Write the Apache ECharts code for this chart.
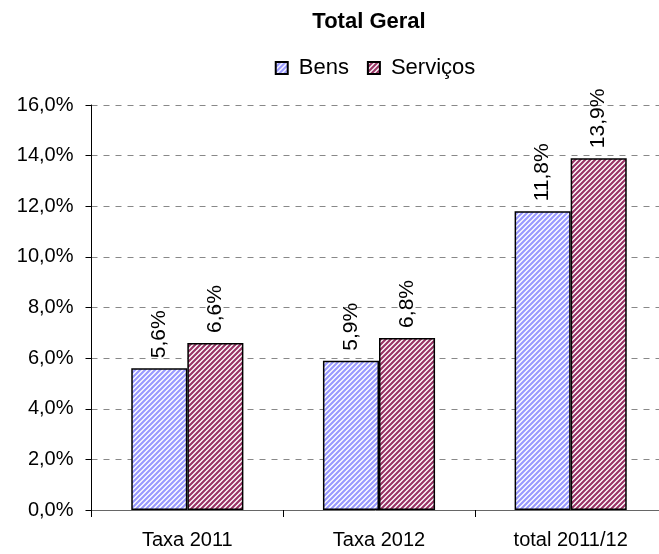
<!DOCTYPE html>
<html><head><meta charset="utf-8">
<script src="https://cdn.jsdelivr.net/npm/echarts@6/dist/echarts.min.js"></script>
<style>html,body{margin:0;padding:0;background:#fff}#c{width:659px;height:554px}</style>
</head><body><div id="c"></div>
<script>
const categories = ['Taxa 2011', 'Taxa 2012', 'total 2011/12'];
const bens = [5.6, 5.9, 11.8];
const servicos = [6.6, 6.8, 13.9];
const seriesNames = ['Bens', 'Serviços'];
const titleText = 'Total Geral';

function stripe(color) {
  const s = 5;
  const cv = document.createElement('canvas');
  cv.width = s; cv.height = s;
  const ctx = cv.getContext('2d');
  ctx.fillStyle = '#fff';
  ctx.fillRect(0, 0, s, s);
  ctx.strokeStyle = color;
  ctx.lineWidth = 2.2;
  ctx.beginPath();
  for (let k = -1; k <= 1; k++) {
    ctx.moveTo(k * s - 1, s + 1);
    ctx.lineTo(k * s + s + 1, -1);
  }
  ctx.stroke();
  return { image: cv, repeat: 'repeat' };
}
const fmt = v => v.toFixed(1).replace('.', ',') + '%';
const font = 'Liberation Sans, Arial, sans-serif';
const mctx = document.createElement('canvas').getContext('2d');
function tw(text, size, weight) {
  mctx.font = (weight || 'normal') + ' ' + size + 'px ' + font;
  return mctx.measureText(text).width;
}
const titleSize = 22, legendSize = 22;
const titleLeft = 364 - tw(titleText, titleSize, 'bold') / 2;
const iconW = 12, iconTxt = 5, txtPad = 6, itemGap = 18;
const legW = seriesNames.reduce((a, n) => a + iconW + iconTxt + txtPad + tw(n, legendSize), 0) + itemGap;
const legendLeft = 369 - legW / 2;

const chart = echarts.init(document.getElementById('c'));
const label = {
  show: true, position: 'top', rotate: 90, align: 'left', verticalAlign: 'middle',
  distance: 10, color: '#000', fontSize: 21, fontFamily: font,
  formatter: p => fmt(p.value)
};
chart.setOption({
  animation: false,
  title: { text: titleText, left: titleLeft, top: 6,
    textStyle: { fontSize: titleSize, fontWeight: 'bold', fontFamily: font, color: '#000' } },
  legend: { top: 52, left: legendLeft, icon: 'rect', itemWidth: iconW, itemHeight: 12, itemGap: itemGap,
    textStyle: { fontSize: legendSize, fontFamily: font, color: '#000', padding: [0, 0, 0, txtPad] },
    data: seriesNames },
  grid: { left: 91.5, width: 575, top: 105, bottom: 44, containLabel: false, outerBoundsMode: 'none' },
  xAxis: { type: 'category', data: categories,
    axisLine: { lineStyle: { color: '#666', width: 1 } },
    axisTick: { show: true, length: 7, lineStyle: { color: '#000' } },
    axisLabel: { fontSize: 20, fontFamily: font, color: '#000', margin: 20, hideOverlap: false } },
  yAxis: { type: 'value', min: 0, max: 16, interval: 2,
    axisLine: { show: true, lineStyle: { color: '#000' } },
    axisTick: { show: true, length: 6, lineStyle: { color: '#000' } },
    axisLabel: { fontSize: 20, fontFamily: font, color: '#000', margin: 18, formatter: v => fmt(v) },
    splitLine: { lineStyle: { color: '#888', type: [6, 6] } } },
  series: [
    { name: seriesNames[0], type: 'bar', data: bens, barGap: '0%', barCategoryGap: '41.5%',
      itemStyle: { color: stripe('#9999ff'), borderColor: '#000', borderWidth: 1.5 }, label },
    { name: seriesNames[1], type: 'bar', data: servicos,
      itemStyle: { color: stripe('#993366'), borderColor: '#000', borderWidth: 1.5 }, label }
  ]
});
</script></body></html>
